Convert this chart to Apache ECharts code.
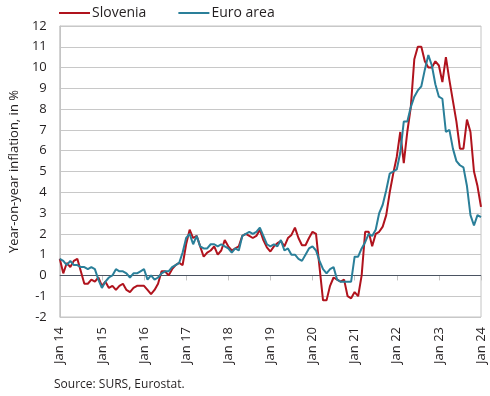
<!DOCTYPE html>
<html>
<head>
<meta charset="utf-8">
<script src="https://cdn.jsdelivr.net/npm/echarts@6/dist/echarts.min.js"></script>
<style>
  html, body { margin: 0; padding: 0; background: #fff; }
  #chart { width: 490px; height: 396px; }
</style>
</head>
<body>
<div id="chart"></div>
<script>
// monthly, Jan 2014 .. Jan 2024
const years = ['14', '15', '16', '17', '18', '19', '20', '21', '22', '23', '24']
const monthNames = ['Jan', 'Feb', 'Mar', 'Apr', 'May', 'Jun', 'Jul', 'Aug', 'Sep', 'Oct', 'Nov', 'Dec']

const slovenia = [
  0.8, 0.1, 0.6, 0.4, 0.7, 0.8, 0.2, -0.4, -0.4, -0.2, -0.3, -0.1,
  -0.5, -0.3, -0.6, -0.5, -0.7, -0.5, -0.4, -0.7, -0.8, -0.6, -0.5, -0.5,
  -0.5, -0.7, -0.9, -0.7, -0.4, 0.2, 0.2, 0.0, 0.3, 0.5, 0.6, 0.5,
  1.5, 2.2, 1.8, 1.9, 1.4, 0.9, 1.1, 1.2, 1.4, 1.0, 1.2, 1.7,
  1.4, 1.2, 1.3, 1.4, 1.9, 2.0, 1.9, 1.8, 1.9, 2.2, 1.7, 1.35,
  1.15, 1.4, 1.55, 1.65, 1.4, 1.8, 1.95, 2.3, 1.8, 1.45, 1.45, 1.8,
  2.1, 2.0, 0.4, -1.2, -1.2, -0.5, -0.1, -0.2, -0.3, -0.2, -1.0, -1.1,
  -0.8, -1.0, 0.0, 2.1, 2.1, 1.4, 2.0, 2.1, 2.35, 2.9, 4.0, 4.9,
  5.7, 6.9, 5.4, 6.9, 8.1, 10.4, 11.0, 11.0, 10.3, 10.0, 10.0, 10.3,
  10.1, 9.3, 10.5, 9.4, 8.4, 7.4, 6.1, 6.1, 7.5, 6.9, 5.0, 4.3,
  3.3
]

const euroArea = [
  0.8, 0.7, 0.5, 0.7, 0.5, 0.5, 0.4, 0.4, 0.3, 0.4, 0.3, -0.2,
  -0.6, -0.3, -0.1, 0.0, 0.3, 0.2, 0.2, 0.1, -0.1, 0.1, 0.1, 0.2,
  0.3, -0.2, 0.0, -0.2, -0.1, 0.1, 0.2, 0.2, 0.4, 0.5, 0.6, 1.1,
  1.8, 2.0, 1.5, 1.9, 1.4, 1.3, 1.3, 1.5, 1.5, 1.4, 1.5, 1.4,
  1.3, 1.1, 1.3, 1.2, 1.9, 2.0, 2.1, 2.0, 2.1, 2.3, 1.9, 1.5,
  1.4, 1.5, 1.4, 1.7, 1.2, 1.3, 1.0, 1.0, 0.8, 0.7, 1.0, 1.3,
  1.4, 1.2, 0.7, 0.3, 0.1, 0.3, 0.4, -0.2, -0.3, -0.3, -0.3, -0.3,
  0.9, 0.9, 1.3, 1.6, 2.0, 1.9, 2.2, 3.0, 3.4, 4.1, 4.9, 5.0,
  5.1, 5.9, 7.4, 7.4, 8.1, 8.6, 8.9, 9.1, 9.9, 10.6, 10.1, 9.2,
  8.6, 8.5, 6.9, 7.0, 6.1, 5.5, 5.3, 5.2, 4.3, 2.9, 2.4, 2.9,
  2.8
]

const categories = []
years.forEach(y => monthNames.forEach(m => categories.push(m + ' ' + y)))
categories.length = slovenia.length

const font = "'Open Sans', sans-serif"
const isJan = idx => idx % 12 === 0

const chart = echarts.init(document.getElementById('chart'), null, { renderer: 'canvas' })

const option = {
  animation: false,
  textStyle: { fontFamily: font, color: '#231f20' },
  legend: {
    left: 54,
    top: 1,
    itemWidth: 31,
    itemHeight: 2,
    itemGap: 32,
    icon: 'rect',
    textStyle: { fontSize: 14, color: '#231f20', fontFamily: font, padding: [0, 0, 0, -3] },
    data: ['Slovenia', 'Euro area']
  },
  grid: {
    left: 57,
    right: 9,
    top: 26,
    bottom: 79,
    show: true,
    borderColor: '#c4c4c4',
    borderWidth: 1
  },
  xAxis: {
    type: 'category',
    data: categories,
    boundaryGap: false,
    axisLine: { lineStyle: { color: '#c4c4c4' } },
    axisTick: { show: true, interval: isJan, length: 5, lineStyle: { color: '#c4c4c4' } },
    axisLabel: {
      interval: isJan,
      rotate: 90,
      fontSize: 13,
      color: '#231f20',
      margin: 10
    },
    splitLine: { show: false }
  },
  yAxis: {
    type: 'value',
    min: -2,
    max: 12,
    interval: 1,
    name: 'Year-on-year inflation, in %',
    nameLocation: 'middle',
    nameGap: 37,
    nameTextStyle: { fontSize: 13, color: '#231f20' },
    axisLine: { show: true, lineStyle: { color: '#c4c4c4' } },
    axisTick: { show: false },
    axisLabel: { fontSize: 13, color: '#231f20', margin: 13 },
    splitLine: { lineStyle: { color: '#c8c8c8', width: 1 } }
  },
  series: [
    {
      name: 'Slovenia',
      type: 'line',
      data: slovenia,
      symbol: 'none',
      color: '#b0131d',
      lineStyle: { width: 2 },
      z: 3,
      markLine: {
        silent: true,
        symbol: 'none',
        label: { show: false },
        lineStyle: { color: '#4b5462', width: 1, type: 'solid' },
        data: [{ yAxis: 0 }],
        z: 1
      }
    },
    {
      name: 'Euro area',
      type: 'line',
      data: euroArea,
      symbol: 'none',
      color: '#2a7f99',
      lineStyle: { width: 2 },
      z: 4
    }
  ],
  graphic: [{
    type: 'text',
    left: 54,
    top: 379,
    style: { text: 'Source: SURS, Eurostat.', fontSize: 12, fontFamily: font, fill: '#231f20' }
  }]
}

chart.setOption(option)
</script>
</body>
</html>
